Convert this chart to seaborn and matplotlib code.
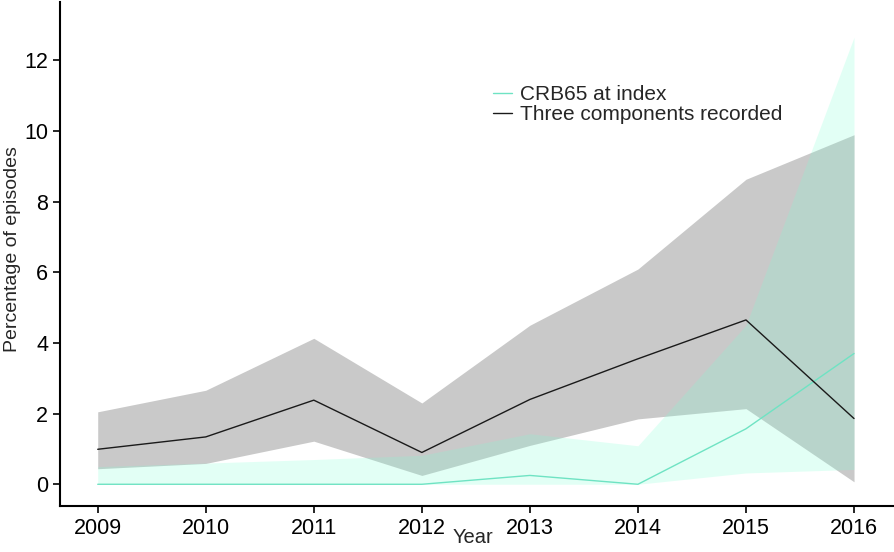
import pandas as pd
import seaborn as sns
import matplotlib.pyplot as plt
import numpy as np

# Data
years = [2009, 2010, 2011, 2012, 2013, 2014, 2015, 2016]
three_mean = [0.99, 1.34, 2.38, 0.90, 2.40, 3.55, 4.65, 1.86]
three_lo = [0.44, 0.59, 1.22, 0.25, 1.10, 1.85, 2.14, 0.07]
three_hi = [2.05, 2.66, 4.13, 2.30, 4.50, 6.09, 8.63, 9.89]
crb_mean = [0.0, 0.0, 0.0, 0.0, 0.25, 0.0, 1.57, 3.70]
crb_lo = [0.0, 0.0, 0.0, 0.0, 0.0, 0.0, 0.32, 0.42]
crb_hi = [0.50, 0.60, 0.70, 0.82, 1.43, 1.09, 4.50, 12.65]
labels = ['CRB65 at index', 'Three components recorded']
colors = ['#6fe3c3', '#1a1a1a']

df = pd.DataFrame({
    'Year': years * 2,
    'pct': crb_mean + three_mean,
    'series': [labels[0]] * len(years) + [labels[1]] * len(years),
})

sns.set_style('ticks')
plt.rcParams['font.family'] = ['Liberation Sans', 'DejaVu Sans']

fig = plt.figure(figsize=(8.94, 5.52), dpi=100)
ax = fig.add_axes([0.067, 0.083, 0.933, 0.913])

# Ribbons
ax.fill_between(years, three_lo, three_hi, color='#c9c9c9', lw=0, zorder=1)
ax.fill_between(years, crb_lo, crb_hi, color='#7fffd4', alpha=0.22, lw=0, zorder=2)

sns.lineplot(data=df, x='Year', y='pct', hue='series', palette=dict(zip(labels, colors)),
             linewidth=1.0, ax=ax, zorder=3)

ax.set_xlim(2008.65, 2016.37)
ax.set_ylim(-0.62, 13.64)
ax.set_xticks(years)
ax.set_yticks([0, 2, 4, 6, 8, 10, 12])
ax.tick_params(axis='both', labelsize=15.5, colors='black', width=1.2, length=5)
ax.set_xlabel('Year', fontsize=14.5)
ax.set_ylabel('Percentage of episodes', fontsize=14)
ax.xaxis.set_label_coords(0.495, -0.043)
ax.yaxis.set_label_coords(-0.047, 0.51)
for s in ['left', 'bottom']:
    ax.spines[s].set_linewidth(1.5)
    ax.spines[s].set_color('black')
sns.despine(ax=ax)

leg = ax.legend(loc='upper left', bbox_to_anchor=(0.519, 0.835), frameon=False,
                fontsize=15, handlelength=0.9, handletextpad=0.4, labelspacing=0.05,
                borderaxespad=0, borderpad=0)

fig.savefig('out.png', dpi=100)
